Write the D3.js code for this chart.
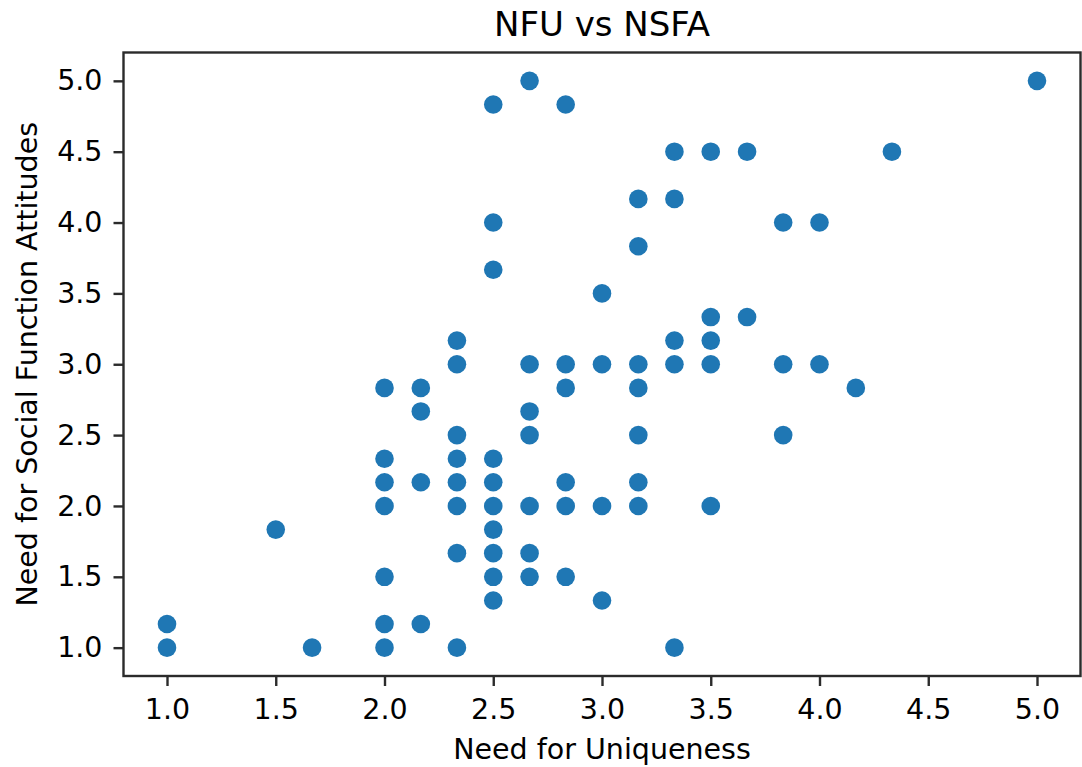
<!DOCTYPE html>
<html>
<head>
<meta charset="utf-8">
<script src="https://cdn.jsdelivr.net/npm/d3@7"></script>
<style>
  body { margin: 0; background: #fff; }
  text { font-family: "DejaVu Sans", sans-serif; fill: #000; }
</style>
</head>
<body>
<script>
const width = 1082;
const height = 767;
const margin = ({top: 52.5, right: 1.5, bottom: 91, left: 123.5});

// Need for Uniqueness (x) and Need for Social Function Attitudes (y), one entry per respondent
const nfu = [
  2.667, 2.5, 2.833, 2.5, 2.5, 3.0, 2.333, 2.333, 2.667, 2.833, 3.0,
  5.0, 3.333, 3.5, 3.667, 4.333, 3.167, 3.333, 3.833, 4.0, 3.167,
  3.5, 3.667, 3.333, 3.5, 3.167, 3.333, 3.5, 3.833, 4.0,
  2.0, 2.167, 2.833, 3.167, 4.167, 2.167, 2.667,
  2.333, 2.667, 3.167, 3.833, 2.0, 2.333, 2.5,
  2.0, 2.167, 2.333, 2.5, 2.833, 3.167,
  2.0, 2.333, 2.5, 2.667, 2.833, 3.0, 3.167, 3.5,
  1.5, 2.5, 2.333, 2.5, 2.667, 2.0, 2.5, 2.667, 2.833,
  2.5, 3.0, 1.0, 2.0, 2.167, 1.0, 1.667, 2.0, 2.333, 3.333
];
const nsfa = [
  5.0, 4.833, 4.833, 4.0, 3.667, 3.5, 3.167, 3.0, 3.0, 3.0, 3.0,
  5.0, 4.5, 4.5, 4.5, 4.5, 4.167, 4.167, 4.0, 4.0, 3.833,
  3.333, 3.333, 3.167, 3.167, 3.0, 3.0, 3.0, 3.0, 3.0,
  2.833, 2.833, 2.833, 2.833, 2.833, 2.667, 2.667,
  2.5, 2.5, 2.5, 2.5, 2.333, 2.333, 2.333,
  2.167, 2.167, 2.167, 2.167, 2.167, 2.167,
  2.0, 2.0, 2.0, 2.0, 2.0, 2.0, 2.0, 2.0,
  1.833, 1.833, 1.667, 1.667, 1.667, 1.5, 1.5, 1.5, 1.5,
  1.333, 1.333, 1.167, 1.167, 1.167, 1.0, 1.0, 1.0, 1.0, 1.0
];

const xTicks = [1.0, 1.5, 2.0, 2.5, 3.0, 3.5, 4.0, 4.5, 5.0];
const yTicks = [1.0, 1.5, 2.0, 2.5, 3.0, 3.5, 4.0, 4.5, 5.0];
const title = "NFU vs NSFA";
const xLabel = "Need for Uniqueness";
const yLabel = "Need for Social Function Attitudes";

let svg = null;
let x = null;
let y = null;

function initializeScales() {
    x = d3.scaleLinear()
    .domain([0.8, 5.2])
    .range([margin.left, width - margin.right]);

    y = d3.scaleLinear()
    .domain([0.8, 5.2])
    .range([height - margin.bottom, margin.top]);
}

function initializeSvg() {
    svg = d3.select("body")
    .append("svg")
    .attr("width", width)
    .attr("height", height);

    const pts = nfu.map((v, i) => ({x: v, y: nsfa[i]}));

    svg.append("g")
        .selectAll("circle")
        .data(pts)
        .join("circle")
        .attr("cx", d => x(d.x))
        .attr("cy", d => y(d.y))
        .attr("r", 9.3)
        .attr("fill", "#1f77b4");

    const xAxis = svg.append("g")
        .attr("transform", `translate(0,${height - margin.bottom})`)
        .call(d3.axisBottom(x).tickValues(xTicks).tickFormat(d3.format(".1f")).tickSize(10).tickPadding(10));

    const yAxis = svg.append("g")
        .attr("transform", `translate(${margin.left},0)`)
        .call(d3.axisLeft(y).tickValues(yTicks).tickFormat(d3.format(".1f")).tickSize(10).tickPadding(11));

    [xAxis, yAxis].forEach(g => {
        g.select(".domain").remove();
        g.selectAll(".tick line").attr("stroke", "#2b2b2b").attr("stroke-width", 2.4);
        g.selectAll(".tick text").attr("font-size", 28.5).attr("fill", "#111");
    });
    xAxis.selectAll(".tick text").attr("dy", "0.8em");

    // frame round the plot area
    svg.append("rect")
        .attr("x", margin.left)
        .attr("y", margin.top)
        .attr("width", width - margin.left - margin.right)
        .attr("height", height - margin.top - margin.bottom)
        .attr("fill", "none")
        .attr("stroke", "#2b2b2b")
        .attr("stroke-width", 2.4);

    svg.append("text")
        .attr("x", (margin.left + width - margin.right) / 2)
        .attr("y", 36)
        .attr("text-anchor", "middle")
        .attr("font-size", 34)
        .text(title);

    svg.append("text")
        .attr("x", (margin.left + width - margin.right) / 2)
        .attr("y", 759)
        .attr("text-anchor", "middle")
        .attr("font-size", 28.5)
        .text(xLabel);

    svg.append("text")
        .attr("transform", `translate(37,${(margin.top + height - margin.bottom) / 2}) rotate(-90)`)
        .attr("text-anchor", "middle")
        .attr("font-size", 28.5)
        .text(yLabel);
}

initializeScales();
initializeSvg();
</script>
</body>
</html>
